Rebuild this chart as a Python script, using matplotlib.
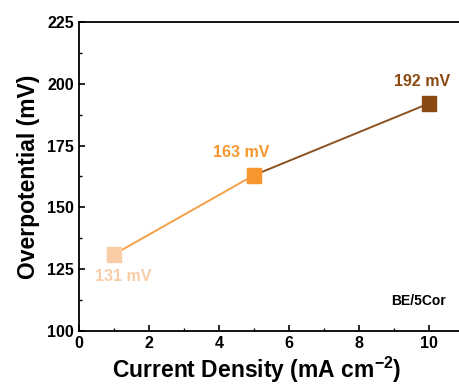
import matplotlib
matplotlib.use("Agg")
import matplotlib.pyplot as plt

plt.rcParams.update({"font.family": ["Liberation Sans", "DejaVu Sans"], "font.weight": "bold",
                     "mathtext.fontset": "custom", "mathtext.rm": "Liberation Sans",
                     "mathtext.bf": "Liberation Sans:bold"})

current = [1, 5, 10]
overpot = [131, 163, 192]
labels = ["131 mV", "163 mV", "192 mV"]
pt_colors = ["#F9CDA5", "#F7962E", "#8B4A12"]
seg_colors = ["#F5A048", "#8B5220"]

fig = plt.figure(figsize=(4.59, 3.9), dpi=100)
ax = fig.add_axes([0.172, 0.151, 0.828, 0.793])

for i in range(len(current) - 1):
    ax.plot(current[i:i + 2], overpot[i:i + 2], color=seg_colors[i], lw=1.4, zorder=2)
ax.scatter(current, overpot, marker="s", s=110, c=pt_colors, zorder=3)

offsets = [(0.25, -9), (-0.35, 9), (-0.2, 9)]
for x, y, t, c, (dx, dy) in zip(current, overpot, labels, pt_colors, offsets):
    ax.text(x + dx, y + dy, t, color=c, fontsize=11.5, fontweight="bold",
            ha="center", va="center")

ax.text(10.48, 112, "BE/5Cor", fontsize=10, fontweight="bold", ha="right", va="center")

ax.set_xlim(0, 10.86)
ax.set_ylim(100, 225)
ax.set_xticks(range(0, 11, 2))
ax.set_yticks(range(100, 226, 25))
ax.set_xticks(range(1, 11, 2), minor=True)
ax.set_yticks([112.5, 137.5, 162.5, 187.5, 212.5], minor=True)
ax.tick_params(which="major", direction="in", length=4, width=1.2, labelsize=11.5)
ax.tick_params(which="minor", direction="in", length=2, width=1)
ax.spines["right"].set_visible(False)
for s in ("left", "bottom", "top"):
    ax.spines[s].set_linewidth(1.3)
for lab in ax.get_xticklabels() + ax.get_yticklabels():
    lab.set_fontweight("bold")

ax.set_xlabel("Current Density (mA cm$^{\\mathbf{-2}}$)", fontsize=16.5, fontweight="bold")
ax.xaxis.set_label_coords(0.467, -0.075)
ax.set_ylabel("Overpotential (mV)", fontsize=16.5, fontweight="bold", labelpad=5)

fig.savefig("out.png", dpi=100)
